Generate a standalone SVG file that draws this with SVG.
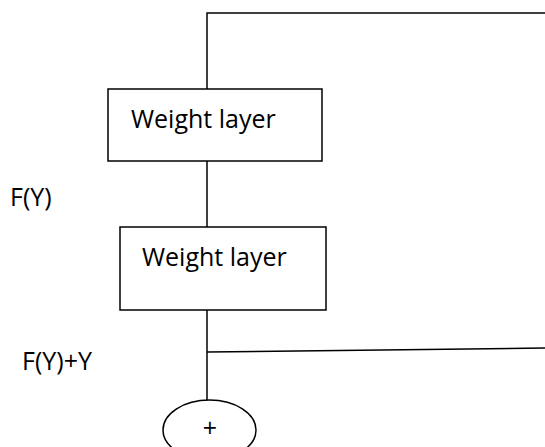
<svg xmlns="http://www.w3.org/2000/svg" width="545" height="447" viewBox="0 0 545 447">
<style>
.box{fill:#fff;stroke:#000;stroke-width:1.5}
.ln{fill:none;stroke:#000;stroke-width:1.5}
.t{font-family:"Open Sans","Liberation Sans",sans-serif;font-size:25px;fill:#000}
</style>
<rect width="545" height="447" fill="#fff"/>
<g id="connectors">
<polyline class="ln" points="545,13 207,13 207,89"/>
<line class="ln" x1="207" y1="161" x2="207" y2="227"/>
<line class="ln" x1="207" y1="310" x2="207" y2="400"/>
<line class="ln" x1="207" y1="352" x2="545" y2="348"/>
</g>
<g id="weight1">
<rect class="box" x="108" y="89" width="214" height="72"/>
<text class="t" x="131" y="128">Weight layer</text>
</g>
<g id="weight2">
<rect class="box" x="120" y="227" width="206" height="83"/>
<text class="t" x="142" y="266">Weight layer</text>
</g>
<g id="plus">
<ellipse class="box" cx="209.5" cy="430" rx="46.5" ry="30"/>
<text class="t" x="210" y="437" text-anchor="middle">+</text>
</g>
<g id="labels">
<text class="t" x="10" y="206">F(Y)</text>
<text class="t" x="22" y="370">F(Y)+Y</text>
</g>
</svg>
